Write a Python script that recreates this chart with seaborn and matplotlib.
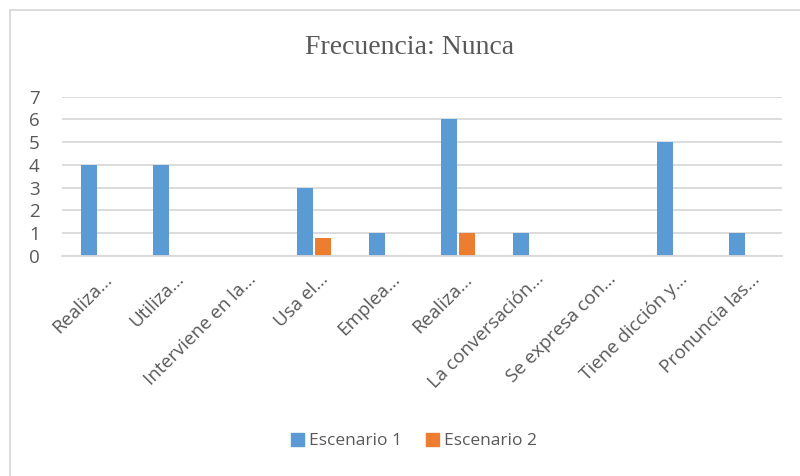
import numpy as np
import pandas as pd
import matplotlib
matplotlib.use("Agg")
import matplotlib.pyplot as plt
import matplotlib.transforms as mtransforms
import seaborn as sns
from matplotlib.lines import Line2D

categorias = ["Realiza...", "Utiliza...", "Interviene en la...", "Usa el...", "Emplea...",
              "Realiza...", "La conversación...", "Se expresa con...", "Tiene dicción y...",
              "Pronuncia las..."]
escenario1 = [4, 4, 0, 3, 1, 6, 1, 0, 5, 1]
escenario2 = [0, 0, 0, 0.8, 0, 1, 0, 0, 0, 0]
series = ["Escenario 1", "Escenario 2"]
colores = ["#5B9BD5", "#ED7D31"]

n = len(categorias)
df = pd.DataFrame({
    "pos": list(range(n)) * 2,
    "valor": escenario1 + escenario2,
    "serie": [series[0]] * n + [series[1]] * n,
})

sns.set_style("white")
plt.rcParams["font.family"] = ["Open Sans", "DejaVu Sans"]

fig = plt.figure(figsize=(8, 4.76), dpi=100)
ax = fig.add_axes([62 / 800, 1 - 256 / 476, 720 / 800, (256 - 96.7) / 476])

sns.barplot(data=df, x="pos", y="valor", hue="serie", palette=colores,
            width=0.5, ax=ax, legend=False, saturation=1)
# little gap between the two bars of a group
for p in ax.patches:
    w = p.get_width()
    p.set_width(w * 0.88)
    p.set_x(p.get_x() + w * 0.06)
    p.set_linewidth(0)

ax.set_xlim(-0.5, n - 0.5)
ax.set_ylim(0, 7)
ax.set_yticks(range(0, 8))
ax.yaxis.grid(True, color="#D9D9D9", linewidth=1.3)
ax.set_axisbelow(True)
for s in ["top", "right", "left"]:
    ax.spines[s].set_visible(False)
ax.spines["bottom"].set_color("#D9D9D9")
ax.spines["bottom"].set_linewidth(1.3)
ax.set_xlabel("")
ax.set_ylabel("")
ax.set_xticks(range(n))
ax.set_xticklabels(categorias, rotation=45, ha="right", va="center", rotation_mode="anchor",
                   fontsize=13.5, color="#595959")
ax.tick_params(axis="y", labelsize=13.5, labelcolor="#595959", length=0, pad=16)
ax.tick_params(axis="x", length=0, pad=6)

fig.text(410 / 800, 1 - 48 / 476, "Frecuencia: Nunca", ha="center", va="center",
         fontsize=20, color="#595959", family=["Liberation Serif", "DejaVu Serif"])

handles = [plt.Rectangle((0, 0), 1, 1, color=c) for c in colores]
fig.legend(handles, series, loc="center", bbox_to_anchor=(414 / 800, 1 - 441 / 476),
           ncol=2, frameon=False, fontsize=12.5, handlelength=0.75, handleheight=0.75,
           handletextpad=0.3, columnspacing=1.4, labelcolor="#595959")

# chart border (only left and top visible in the reference)
fig.add_artist(Line2D([9.5 / 800, 9.5 / 800], [0, 1 - 9.5 / 476], color="#D9D9D9", lw=1.3))
fig.add_artist(Line2D([9.5 / 800, 1], [1 - 9.5 / 476, 1 - 9.5 / 476], color="#D9D9D9", lw=1.3))

# nudge category labels right/down like Excel does
fig.canvas.draw()
shift = mtransforms.ScaledTranslation(11 / 100, -12 / 100, fig.dpi_scale_trans)
for lab in ax.get_xticklabels():
    lab.set_transform(lab.get_transform() + shift)

fig.savefig("out.png", dpi=100)
